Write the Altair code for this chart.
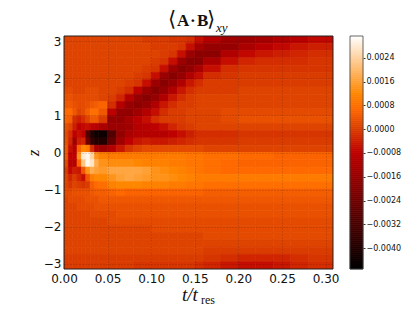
import altair as alt
import numpy as np
import pandas as pd

t_edges = [0, .005, .01, .015, .02, .025, .03, .035, .04, .05, .06, .07, .08, .09, .10, .11, .12, .13, .14,
           .15, .16, .18, .20, .22, .24, .26, .28, .3085]
Z_MAX = 3.1416
# values are in units of 1e-4, rows run from the top of the picture to the bottom
rows = [
 [1,1,1,1,1,1,1,1,1,1,1,1,1,0,0,0,-1,-1,-2,-6,-10,-14,-14,-13,-11,-9,-7],
 [1,1,1,1,1,1,1,1,1,1,1,1,1,1,0,0,0,-1,-6,-13,-16,-16,-12,-9,-7,-5,-4],
 [1,1,1,1,1,1,1,1,1,1,1,1,1,1,1,0,-1,-6,-15,-18,-18,-11,-7,-5,-4,-3,-2],
 [1,1,1,1,1,1,1,1,1,1,1,1,1,1,0,-1,-6,-15,-19,-19,-12,-6,-3,-2,-2,-2,-1],
 [1,1,1,1,1,1,1,1,1,1,1,1,1,0,-1,-6,-15,-19,-17,-12,-6,-2,-1,-1,-1,-1,-1],
 [1,1,1,1,1,1,1,1,1,1,1,1,0,-1,-6,-15,-19,-16,-11,-6,-2,-1,0,0,0,0,0],
 [1,1,1,1,1,1,1,1,1,1,1,0,-1,-6,-15,-19,-16,-11,-5,-2,0,0,0,0,0,0,0],
 [2,2,1,1,1,2,2,2,1,1,0,-2,-8,-15,-19,-16,-11,-5,-2,0,0,0,1,1,1,1,1],
 [3,3,2,2,2,2,2,2,1,0,-3,-10,-16,-19,-16,-11,-5,-2,0,1,1,1,1,1,1,1,1],
 [4,4,3,2,2,3,4,5,6,-2,-10,-16,-18,-16,-11,-5,-2,0,0,1,1,1,1,1,1,1,1],
 [7,7,4,1,2,5,8,8,4,-8,-16,-17,-14,-10,-6,-2,0,0,1,1,1,2,2,2,2,2,2],
 [6,5,-2,-4,-2,1,4,4,0,-16,-16,-13,-9,-6,-2,0,0,0,1,1,1,2,3,3,3,3,3],
 [3,1,-4,-8,-7,-6,-8,-9,-12,-15,-15,-14,-10,-9,-8,-6,-3,-1,0,1,1,1,1,1,1,1,1],
 [2,-2,-8,-6,-8,-30,-40,-44,-44,-30,-17,-12,-10,-10,-10,-10,-8,-6,-4,-2,-2,-2,-1,-1,-1,-1,-1],
 [3,-3,-14,-4,-3,-24,-36,-40,-40,-26,-14,-8,-5,-4,-5,-5,-4,-3,-2,-1,-1,-1,0,0,0,0,0],
 [4,-6,-10,6,12,10,-2,-12,-14,-10,-5,-1,1,2,2,2,2,2,2,2,1,1,1,1,1,1,1],
 [4,-8,-8,14,28,30,24,14,11,10,10,10,10,10,10,10,10,10,9,9,8,8,7,7,6,6,6],
 [2,-10,-10,6,22,30,27,18,14,13,13,13,12,11,11,11,10,10,9,9,8,7,6,6,6,6,6],
 [0,-7,-4,-5,4,14,18,16,15,17,17,17,17,16,14,13,12,11,10,9,8,7,7,7,7,7,7],
 [1,-3,0,-3,-6,4,10,12,12,14,16,17,16,15,14,14,13,12,11,10,10,10,10,10,10,10,10],
 [1,-1,1,0,-1,0,5,7,8,11,12,12,12,11,11,11,10,10,9,9,8,8,8,8,8,8,8],
 [2,2,3,3,3,3,4,5,5,6,7,6,6,6,6,6,6,6,6,6,5,5,5,5,5,5,5],
 [1,2,2,2,2,3,3,3,4,4,4,4,4,4,4,4,4,4,4,4,4,4,4,4,4,4,4],
 [1,1,1,2,2,2,2,3,3,3,3,3,3,3,3,3,3,3,3,3,3,3,3,3,3,3,3],
 [1,1,1,1,1,1,2,2,2,2,3,3,3,3,3,3,3,3,3,3,3,3,3,3,3,3,3],
 [1,1,1,1,1,1,1,1,1,2,2,2,2,2,2,2,2,2,2,2,2,2,2,2,2,2,2],
 [1,1,1,1,1,1,1,1,1,1,1,1,1,1,2,2,2,2,2,2,2,2,2,2,2,2,2],
 [1,1,1,1,1,1,1,1,1,1,1,1,1,1,1,1,1,1,1,1,2,2,2,2,2,2,2],
 [1,1,1,1,1,1,1,1,1,1,1,1,1,1,1,1,1,1,1,1,1,1,1,1,1,1,1],
 [1,1,1,1,1,1,1,1,1,1,1,1,1,1,1,1,1,1,1,1,0,0,0,0,0,0,0],
 [0,0,0,0,0,0,0,0,0,0,0,0,0,0,0,0,0,0,0,0,-1,-2,-3,-3,-3,-2,-1],
 [0,0,0,0,0,0,0,0,0,0,0,0,-1,-1,-1,-1,-1,-1,-1,-2,-3,-5,-6,-6,-5,-3,-2],
]
UNIT = 1e-4
color_domain = [-0.0047, -0.000785, 0.0001, 0.0007, 0.0012, 0.00313]
color_range = ["#000000", "#bf0000", "#de4400", "#ff6900", "#ff8700", "#ffffff"]
x_ticks = [0, .05, .10, .15, .20, .25, .30]
z_ticks = [-3, -2, -1, 0, 1, 2, 3]
bar_ticks = [0.0024, 0.0016, 0.0008, 0, -0.0008, -0.0016, -0.0024, -0.0032, -0.0040]

n = len(rows)
z_edges = np.linspace(Z_MAX, -Z_MAX, n + 1)
recs = []
for i, row in enumerate(rows):
    assert len(row) == len(t_edges) - 1, i
    for j, v in enumerate(row):
        recs.append(dict(t0=t_edges[j], t1=t_edges[j + 1], z0=z_edges[i + 1], z1=z_edges[i], v=v * UNIT))
df = pd.DataFrame(recs)

color = alt.Scale(domain=color_domain, range=color_range, interpolate="rgb", clamp=True)
PW, PH = 269, 233
FONT = "DejaVu Sans"
SERIF = "Liberation Serif"
X = alt.Scale(domain=[0, 0.3085], nice=False, zero=False)
Y = alt.Scale(domain=[-Z_MAX, Z_MAX], nice=False, zero=False)

heat = alt.Chart(df).mark_rect(strokeWidth=0.7, clip=True).encode(
    x=alt.X("t0:Q", scale=X, axis=alt.Axis(values=x_ticks, format=".2f", title=None, grid=True, gridColor="#000000",
            gridOpacity=0.3, gridDash=[1, 2], gridWidth=0.8, tickSize=0, labelFontSize=12, labelFont=FONT,
            labelColor="#111", labelPadding=4, domain=False, zindex=1, labelFlush=False, labelOverlap=False)),
    x2="t1:Q",
    y=alt.Y("z0:Q", scale=Y, axis=alt.Axis(values=z_ticks, format="d", title=None, grid=True, gridColor="#000000",
            gridOpacity=0.3, gridDash=[1, 2], gridWidth=0.8, tickSize=0, labelFontSize=12, labelFont=FONT,
            labelColor="#111", labelPadding=3, domain=False, zindex=1, labelFlush=False, labelOverlap=False,
            labelExpr="replace(datum.label, '-', '−')")),
    y2="z1:Q",
    fill=alt.Fill("v:Q", scale=color, legend=None),
    stroke=alt.Stroke("v:Q", scale=color, legend=None),
)
blank = pd.DataFrame({"a": [0]})
frame = alt.Chart(blank).mark_rect(fill=None, stroke="#222222", strokeWidth=1).encode(
    x=alt.value(0), x2=alt.value(PW), y=alt.value(0), y2=alt.value(PH))

def label(text, x, y, size, **kw):
    font = kw.pop("font", SERIF)
    return alt.Chart(blank).mark_text(text=text, font=font, fontSize=size, color="#111", align="left",
                                      baseline="alphabetic", **kw).encode(x=alt.value(x), y=alt.value(y))

labels = [
    label("⟨", 104, -10, 21, font="DejaVu Serif"),
    label("A", 113, -10, 17, fontWeight="bold"),
    label("·", 126, -10, 17, fontWeight="bold"),
    label("B", 133, -10, 17, fontWeight="bold"),
    label("⟩", 143, -10, 21, font="DejaVu Serif"),
    label("xy", 152, -4, 13, fontStyle="italic"),
    label("t/t", 118, 265, 19, fontStyle="italic"),
    label("res", 137, 268, 12),
    alt.Chart(blank).mark_text(text="z", font=SERIF, fontSize=17, fontStyle="italic", color="#111", angle=270).encode(
        x=alt.value(-30), y=alt.value(117)),
]
main = alt.layer(heat, frame, *labels).properties(width=PW, height=PH)

levels = np.linspace(color_domain[0], color_domain[-1], PH // 2 + 1)
bar_df = pd.DataFrame({"a": levels[:-1], "b": levels[1:], "v": (levels[:-1] + levels[1:]) / 2})
BY = alt.Scale(domain=[color_domain[0], color_domain[-1]], nice=False, zero=False)
bar = alt.Chart(bar_df).mark_rect(strokeWidth=0.7).encode(
    x=alt.value(0), x2=alt.value(13),
    y=alt.Y("a:Q", scale=BY, axis=alt.Axis(orient="right", values=bar_ticks, format=".4f", title=None, grid=False,
            tickSize=2, tickColor="#333", labelFontSize=8, labelFont=FONT, labelColor="#111", labelPadding=1,
            domain=False, labelOverlap=False, labelExpr="replace(datum.label, '-', '−')")),
    y2="b:Q",
    fill=alt.Fill("v:Q", scale=color, legend=None),
    stroke=alt.Stroke("v:Q", scale=color, legend=None),
)
bar_frame = alt.Chart(blank).mark_rect(fill=None, stroke="#444444", strokeWidth=0.8).encode(
    x=alt.value(0), x2=alt.value(13), y=alt.value(0), y2=alt.value(PH))
cbar = alt.layer(bar, bar_frame).properties(width=13, height=PH)

chart = alt.hconcat(
    main, cbar, spacing=10, padding={"left": 17, "top": 1, "right": 0, "bottom": 0}
).resolve_scale(y="independent", x="independent").configure_view(stroke=None)
chart.save("out.html", embed_options={"renderer": "svg", "actions": False})
